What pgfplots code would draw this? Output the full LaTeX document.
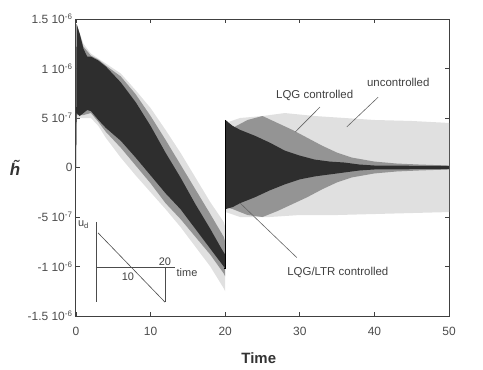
\documentclass[border=0pt]{standalone}
\usepackage{pgfplots}
\pgfplotsset{compat=1.18}
\usepackage{fontspec}
\setmainfont{Liberation Sans}
\begin{document}
\begin{tikzpicture}
\useasboundingbox (-76bp,-54bp) rectangle (407bp,316bp);
\begin{axis}[
  at={(0,0)}, anchor=south west,
  scale only axis, width=373bp, height=297bp,
  xmin=0, xmax=50, ymin=-1.5, ymax=1.5,
  xtick={0,10,20,30,40,50},
  ytick={-1.5,-1,-0.5,0,0.5,1,1.5},
  yticklabels={-1.5 10\textsuperscript{-6},-1 10\textsuperscript{-6},-5 10\textsuperscript{-7},0\hspace{18bp},5 10\textsuperscript{-7},1 10\textsuperscript{-6},1.5 10\textsuperscript{-6}},
  tick align=inside, major tick length=4bp,
  axis line style={black!75, line width=1bp},
  tick style={black!75, line width=0.8bp},
  tick label style={font=\fontsize{12}{14}\selectfont, text=black!70},
  /pgf/number format/assume math mode=true,
  xticklabel style={yshift=-8bp},
  xlabel={\textbf{Time}},
  xlabel style={at={(axis description cs:0.49,-0.1414)}, anchor=center, font=\fontsize{15}{17}\selectfont, text=black!80},
  ylabel={\textbf{\textit{\~{h}}}},
  ylabel style={at={(axis description cs:-0.1635,0.5)}, rotate=-90, anchor=center, font=\fontsize{17}{19}\selectfont, text=black!80},
]
% uncontrolled
\addplot[fill=black!12, draw=none] coordinates {(0,0)(0.08,1.45)(1,1.25)(2,1.15)(3,1.1)(4,1.05)(5,1.0)(6,0.95)(8,0.78)(10,0.6)(12,0.38)(14,0.15)(16,-0.1)(18,-0.35)(19.8,-0.55)(20,-0.6)
 (20,-1.25)(19.8,-1.22)(18,-1.0)(16,-0.8)(14,-0.6)(12,-0.42)(10,-0.25)(8,-0.08)(6,0.1)(5,0.2)(4,0.3)(3,0.42)(2,0.5)(1,0.5)(0.08,0.5)(0,0)};
\addplot[fill=black!12, draw=none] coordinates {(20.05,0.45)(22,0.5)(25,0.52)(28,0.55)(32,0.52)(36,0.5)(40,0.48)(45,0.47)(50,0.45)
 (50,-0.45)(45,-0.46)(40,-0.47)(35,-0.48)(30,-0.48)(26,-0.5)(22,-0.5)(20.05,-0.45)};
% LQG controlled
\addplot[fill=black!42, draw=none] coordinates {(0,0)(0.08,1.45)(1,1.22)(2,1.13)(3,1.09)(4,1.03)(6,0.92)(8,0.74)(10,0.52)(12,0.28)(14,0.03)(16,-0.22)(18,-0.47)(19.8,-0.7)(20,-0.75)
 (20,-1.1)(19.8,-1.07)(18,-0.88)(16,-0.7)(14,-0.52)(12,-0.36)(10,-0.16)(8,0.02)(6,0.2)(4,0.36)(3,0.46)(2,0.55)(1,0.53)(0.08,0.53)(0,0)};
\addplot[fill=black!42, draw=none] coordinates {(20.05,0.35)(21,0.4)(23,0.48)(25,0.52)(27,0.45)(29,0.38)(31,0.3)(33,0.22)(35,0.15)(37,0.1)(40,0.06)(43,0.04)(46,0.03)(50,0.02)
 (50,-0.02)(46,-0.03)(43,-0.04)(40,-0.06)(37,-0.1)(35,-0.15)(33,-0.22)(31,-0.3)(29,-0.37)(27,-0.44)(25,-0.5)(23,-0.48)(21,-0.42)(20.05,-0.4)};
% LQG/LTR controlled
\addplot[fill=black!82, draw=none] coordinates {(0,0)(0.08,1.45)(0.5,1.35)(1,1.2)(1.5,1.12)(2,1.12)(3,1.08)(4,1.02)(6,0.86)(8,0.66)(10,0.42)(12,0.15)(14,-0.1)(16,-0.37)(18,-0.62)(19.5,-0.82)(20,-0.88)
 (20,-1.02)(19.5,-0.97)(18,-0.82)(16,-0.62)(14,-0.42)(12,-0.26)(10,-0.08)(8,0.1)(6,0.27)(4,0.4)(3,0.48)(2,0.57)(1.5,0.58)(1,0.55)(0.5,0.52)(0.08,0.55)(0,0)};
\addplot[fill=black!82, draw=none] coordinates {(20.05,0.48)(20.5,0.45)(21,0.42)(22,0.38)(24,0.32)(26,0.25)(28,0.17)(30,0.12)(32,0.08)(34,0.06)(36,0.05)(38,0.03)(40,0.02)(50,0.015)
 (50,-0.015)(40,-0.02)(38,-0.03)(36,-0.05)(34,-0.07)(32,-0.09)(30,-0.12)(28,-0.17)(26,-0.23)(24,-0.3)(22,-0.36)(21,-0.4)(20.05,-0.42)};
\addplot[black, line width=1.2bp] coordinates {(19.9,-1.02)(20.05,-1.02)(20.05,0.48)};
% annotations
\addplot[black!60, line width=0.6bp] coordinates {(32.7,0.61)(29.4,0.36)};
\addplot[black!60, line width=0.6bp] coordinates {(40.5,0.71)(36.3,0.41)};
\addplot[black!60, line width=0.6bp] coordinates {(29.6,-0.91)(22.0,-0.36)};
\node[font=\fontsize{11.5}{13}\selectfont, text=black!75] at (axis cs:32,0.73) {LQG controlled};
\node[font=\fontsize{11.5}{13}\selectfont, text=black!75] at (axis cs:43.2,0.86) {uncontrolled};
\node[font=\fontsize{11.5}{13}\selectfont, text=black!75] at (axis cs:35.1,-1.06) {LQG/LTR controlled};
% inset sketch of u_d
\addplot[black!70, line width=0.6bp] coordinates {(2.68,-0.55)(2.68,-1.36)};
\addplot[black!70, line width=0.6bp] coordinates {(2.68,-1.005)(13.27,-1.005)};
\addplot[black!70, line width=0.6bp] coordinates {(11.93,-1.005)(11.93,-1.36)};
\addplot[black!70, line width=0.6bp] coordinates {(2.95,-0.66)(11.93,-1.36)};
\node[font=\fontsize{11}{12}\selectfont, text=black!75, anchor=south, inner sep=1bp] at (axis cs:11.93,-1.005) {20};
\node[font=\fontsize{11}{12}\selectfont, text=black!75] at (axis cs:6.97,-1.106) {10};
\node[font=\fontsize{11}{12}\selectfont, text=black!75] at (axis cs:14.88,-1.066) {time};
\node[font=\fontsize{11}{12}\selectfont, text=black!75] at (axis cs:1.0,-0.58) {u\textsubscript{d}};
\end{axis}
\end{tikzpicture}
\end{document}
